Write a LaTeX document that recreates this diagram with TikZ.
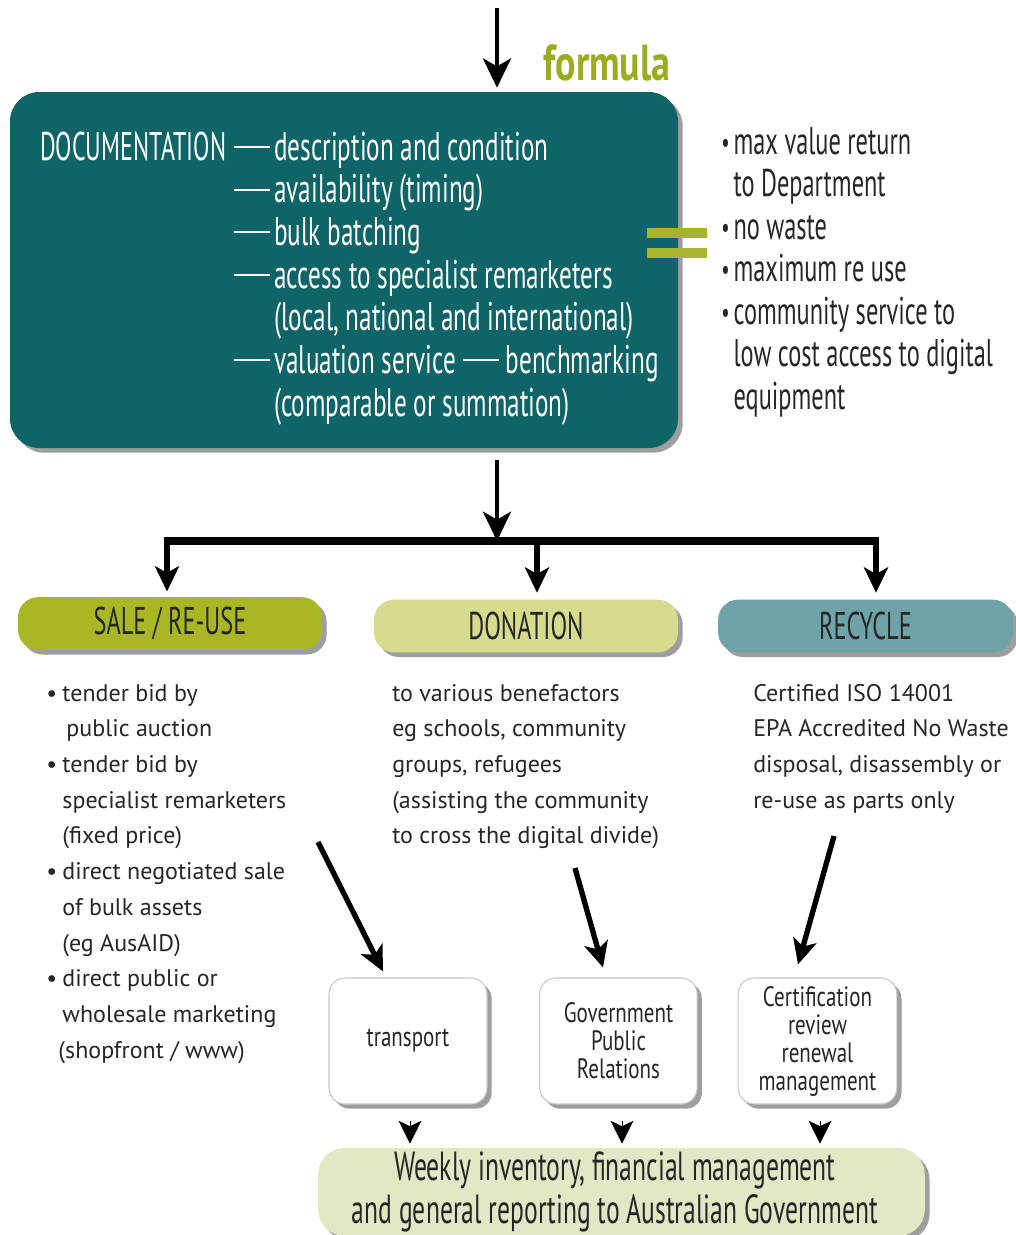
\documentclass[tikz,border=0pt]{standalone}
\usepackage{fontspec}
\setmainfont{PT Sans}
\newfontfamily\cond[FakeStretch=0.63]{PT Sans}
\newfontfamily\condb[FakeStretch=0.75]{PT Sans}
\newfontfamily\body{PT Sans}
\usetikzlibrary{arrows.meta,shadows,calc}
\definecolor{docteal}{HTML}{0E6467}
\definecolor{formulagreen}{HTML}{9CAC1F}
\definecolor{eqgreen}{HTML}{A7B52B}
\definecolor{salegreen}{HTML}{A8B723}
\definecolor{donpale}{HTML}{D7DB8D}
\definecolor{recteal}{HTML}{6EA3A8}
\definecolor{botpale}{HTML}{E3E7C6}
\definecolor{ink}{HTML}{262626}
\newcommand{\ldash}{\rule[0.3em]{27pt}{1.6pt}}
\newcommand{\bigbul}{\raisebox{0.05em}{\fontsize{22}{22}\selectfont\textbullet}}
\begin{document}
\begin{tikzpicture}[x=0.75pt,y=-0.75pt,
  shade/.style={drop shadow={shadow xshift=3.5pt,shadow yshift=-3.5pt,fill=black!38,opacity=1}},
  docbox/.style={shade,fill=docteal,rounded corners=22pt,inner sep=0pt},
  catbar/.style={shade,rounded corners=15pt,inner sep=0pt,minimum height=39.5pt,text=ink,font=\cond\fontsize{29}{32}\selectfont},
  smallbox/.style={shade,fill=white,draw=black!22,line width=0.8pt,rounded corners=12pt,inner sep=0pt,minimum height=94.5pt,text=ink,align=center,font=\condb\fontsize{21}{21}\selectfont},
  bigtext/.style={inner sep=0pt,font=\cond\fontsize{30}{32}\selectfont},
  coltext/.style={inner sep=0pt,text=ink,font=\body\fontsize{18}{26.8}\selectfont},
  arrowbig/.style={line width=3.3pt,-{Stealth[length=22pt,width=21pt,inset=6pt]}},
  arrowmid/.style={line width=4pt,-{Stealth[length=19pt,width=18pt,inset=5pt]}},
  headonly/.style={line width=0.5pt,-{Stealth[length=17pt,width=17pt,inset=4pt]}}
]
\path[use as bounding box,fill=white] (0,0) rectangle (1015,1235);

% main documentation box
\node[docbox,minimum width=501pt,minimum height=267pt] (doc) at (344,270) {};
\node[bigtext,text=white,anchor=base west] (doctext) at (40,160) {%
\begin{tabular}[t]{@{}l@{\hspace{6pt}}l@{\hspace{3pt}}l@{}}
\scalebox{0.95}[1]{DOCUMENTATION} & \ldash & description and condition\\
 & \ldash & availability (timing)\\
 & \ldash & bulk batching\\
 & \ldash & access to specialist remarketers\\
 & & (local, national and international)\\
 & \ldash & valuation service \ldash\ benchmarking\\
 & & (comparable or summation)
\end{tabular}};

% formula label and incoming arrow
\node[inner sep=0pt,text=formulagreen,font=\condb\bfseries\fontsize{38}{40}\selectfont] (formula) at (607,63) {formula};
\coordinate (topin) at (497,8);
\draw[arrowbig,shorten >=3pt] (topin) -- (topin |- doc.north);

% equals sign
\fill[eqgreen] (647,228) rectangle (707,237.5);
\fill[eqgreen] (647,248) rectangle (707,257.5);

% right bullet list
\node[inner sep=0pt,text=ink,font=\cond\fontsize{29}{31.9}\selectfont,anchor=base west] (goals) at (721,154) {%
\begin{tabular}[t]{@{}l@{\hspace{3pt}}l@{}}
\bigbul & max value return\\
 & to Department\\
\bigbul & no waste\\
\bigbul & maximum re use\\
\bigbul & community service to\\
 & low cost access to digital\\
 & equipment
\end{tabular}};

% category bars
\node[catbar,fill=salegreen,minimum width=228pt] (sale) at (170,623.5) {SALE / RE-USE};
\node[catbar,fill=donpale,minimum width=228pt] (don) at (526,626) {DONATION};
\node[catbar,fill=recteal,minimum width=221pt] (rec) at (865.5,626) {RECYCLE};

% distribution tree
\coordinate (hub) at (497,541);
\coordinate (jL) at (167,541);
\coordinate (jM) at (537,541);
\coordinate (jR) at (876,541);
\draw[arrowbig,shorten <=9pt] (doc.south -| hub) -- (hub);
\draw[line width=6pt] ([xshift=-2.25pt]jL) -- ([xshift=2.25pt]jR);
\draw[arrowmid,shorten >=4pt] (jL) -- (jL |- sale.north);
\draw[arrowmid,shorten >=5pt] (jM) -- (jM |- don.north);
\draw[arrowmid,shorten >=5pt] (jR) -- (jR |- rec.north);

% column texts
\node[coltext,anchor=base west] (saletext) at (46,701) {%
\begin{tabular}[t]{@{}l@{\hspace{4pt}}l@{}}
\textbullet & tender bid by\\
 & \hspace{3pt}public auction\\
\textbullet & tender bid by\\
 & specialist remarketers\\
 & (fixed price)\\
\textbullet & direct negotiated sale\\
 & of bulk assets\\
 & (eg AusAID)\\
\textbullet & direct public or\\
 & wholesale marketing\\
 & \hspace{-3pt}(shopfront / www)
\end{tabular}};
\node[coltext,anchor=base west] (dontext) at (392,701) {%
\begin{tabular}[t]{@{}l@{}}
to various benefactors\\
eg schools, community\\
groups, refugees\\
(assisting the community\\
to cross the digital divide)
\end{tabular}};
\node[coltext,anchor=base west] (rectext) at (753,701) {%
\begin{tabular}[t]{@{}l@{}}
Certified ISO 14001\\
EPA Accredited No Waste\\
disposal, disassembly or\\
re-use as parts only
\end{tabular}};

% small boxes
\node[smallbox,minimum width=118.5pt] (tr) at (408,1041) {transport};
\node[smallbox,minimum width=118pt] (gov) at (618.5,1041) {Government\\Public\\Relations};
\node[smallbox,minimum width=119pt] (cert) at (817.5,1041) {Certification\\review\\renewal\\management};

% diagonal arrows
\coordinate (aL) at (318,842);
\coordinate (aM) at (575,868);
\coordinate (aR) at (834,836);
\draw[arrowmid] (aL) -- ($(tr.north)+(-25,-6)$);
\draw[arrowmid] (aM) -- ($(gov.north)+(-15.5,-10)$);
\draw[arrowmid] (aR) -- ($(cert.north)+(-19.5,-13)$);

% bottom reporting box
\node[shade,fill=botpale,rounded corners=20pt,inner sep=0pt,minimum width=455pt,minimum height=66pt,text=ink,align=center,font=\cond\fontsize{30.5}{32}\selectfont] (report) at (621.5,1192) {Weekly inventory, financial management\hspace*{10pt}\\and general reporting to Australian Government\hspace*{10pt}};

% small heads into the bottom box
\draw[headonly] ($(tr.south)+(2,16)$) -- ($(tr.south)+(2,39)$);
\draw[headonly] ($(gov.south)+(3.5,16)$) -- ($(gov.south)+(3.5,39)$);
\draw[headonly] ($(cert.south)+(2.5,16)$) -- ($(cert.south)+(2.5,39)$);
\end{tikzpicture}
\end{document}
